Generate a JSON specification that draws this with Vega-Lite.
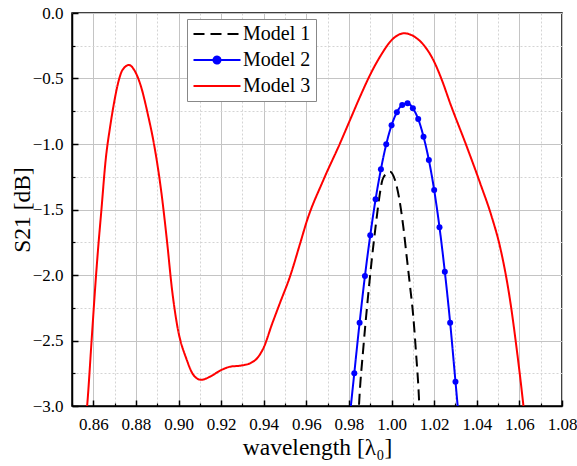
{
  "$schema": "https://vega.github.io/schema/vega-lite/v6.json",
  "width": 490,
  "height": 393,
  "autosize": {"type": "none"},
  "padding": {"left": 72, "top": 13, "right": 15, "bottom": 60},
  "background": "white",
  "config": {
    "view": {"stroke": "black", "strokeWidth": 1.5},
    "font": "Liberation Serif",
    "axis": {"labelFont": "Liberation Serif", "titleFont": "Liberation Serif", "labelColor": "black", "titleColor": "black", "titleFontWeight": "normal"}
  },
  "datasets": {
    "curves": [
      {"model": "Model 1", "wl": 0.9840, "s21": -3.25},
      {"model": "Model 1", "wl": 0.9847, "s21": -3.0},
      {"model": "Model 1", "wl": 0.9868, "s21": -2.547},
      {"model": "Model 1", "wl": 0.9888, "s21": -2.19},
      {"model": "Model 1", "wl": 0.9907, "s21": -1.885},
      {"model": "Model 1", "wl": 0.9926, "s21": -1.618},
      {"model": "Model 1", "wl": 0.9943, "s21": -1.402},
      {"model": "Model 1", "wl": 0.9957, "s21": -1.275},
      {"model": "Model 1", "wl": 0.9977, "s21": -1.224},
      {"model": "Model 1", "wl": 0.9993, "s21": -1.211},
      {"model": "Model 1", "wl": 1.0016, "s21": -1.275},
      {"model": "Model 1", "wl": 1.0037, "s21": -1.427},
      {"model": "Model 1", "wl": 1.0055, "s21": -1.631},
      {"model": "Model 1", "wl": 1.0071, "s21": -1.86},
      {"model": "Model 1", "wl": 1.0087, "s21": -2.089},
      {"model": "Model 1", "wl": 1.0102, "s21": -2.318},
      {"model": "Model 1", "wl": 1.0115, "s21": -2.598},
      {"model": "Model 1", "wl": 1.0129, "s21": -2.954},
      {"model": "Model 1", "wl": 1.0135, "s21": -3.2},
      {"model": "Model 2", "wl": 0.9800, "s21": -3.14},
      {"model": "Model 2", "wl": 0.9825, "s21": -2.75},
      {"model": "Model 2", "wl": 0.9850, "s21": -2.364},
      {"model": "Model 2", "wl": 0.9875, "s21": -2.008},
      {"model": "Model 2", "wl": 0.9900, "s21": -1.697},
      {"model": "Model 2", "wl": 0.9925, "s21": -1.422},
      {"model": "Model 2", "wl": 0.9950, "s21": -1.193},
      {"model": "Model 2", "wl": 0.9975, "s21": -1.002},
      {"model": "Model 2", "wl": 1.0000, "s21": -0.857},
      {"model": "Model 2", "wl": 1.0025, "s21": -0.758},
      {"model": "Model 2", "wl": 1.0050, "s21": -0.702},
      {"model": "Model 2", "wl": 1.0075, "s21": -0.689},
      {"model": "Model 2", "wl": 1.0100, "s21": -0.728},
      {"model": "Model 2", "wl": 1.0125, "s21": -0.809},
      {"model": "Model 2", "wl": 1.0150, "s21": -0.944},
      {"model": "Model 2", "wl": 1.0175, "s21": -1.122},
      {"model": "Model 2", "wl": 1.0200, "s21": -1.351},
      {"model": "Model 2", "wl": 1.0225, "s21": -1.636},
      {"model": "Model 2", "wl": 1.0250, "s21": -1.975},
      {"model": "Model 2", "wl": 1.0275, "s21": -2.364},
      {"model": "Model 2", "wl": 1.0300, "s21": -2.814},
      {"model": "Model 2", "wl": 1.0325, "s21": -3.264},
      {"model": "Model 3", "wl": 0.8555, "s21": -3.25},
      {"model": "Model 3", "wl": 0.8572, "s21": -2.98},
      {"model": "Model 3", "wl": 0.8592, "s21": -2.50},
      {"model": "Model 3", "wl": 0.8613, "s21": -2.0},
      {"model": "Model 3", "wl": 0.8622, "s21": -1.809},
      {"model": "Model 3", "wl": 0.8638, "s21": -1.504},
      {"model": "Model 3", "wl": 0.8658, "s21": -1.122},
      {"model": "Model 3", "wl": 0.8679, "s21": -0.868},
      {"model": "Model 3", "wl": 0.8697, "s21": -0.689},
      {"model": "Model 3", "wl": 0.8716, "s21": -0.537},
      {"model": "Model 3", "wl": 0.8737, "s21": -0.435},
      {"model": "Model 3", "wl": 0.8768, "s21": -0.397},
      {"model": "Model 3", "wl": 0.8792, "s21": -0.435},
      {"model": "Model 3", "wl": 0.8824, "s21": -0.562},
      {"model": "Model 3", "wl": 0.8855, "s21": -0.766},
      {"model": "Model 3", "wl": 0.8887, "s21": -1.02},
      {"model": "Model 3", "wl": 0.8918, "s21": -1.351},
      {"model": "Model 3", "wl": 0.8947, "s21": -1.758},
      {"model": "Model 3", "wl": 0.8968, "s21": -2.09},
      {"model": "Model 3", "wl": 0.8992, "s21": -2.369},
      {"model": "Model 3", "wl": 0.9039, "s21": -2.649},
      {"model": "Model 3", "wl": 0.9070, "s21": -2.763},
      {"model": "Model 3", "wl": 0.9105, "s21": -2.80},
      {"model": "Model 3", "wl": 0.9148, "s21": -2.776},
      {"model": "Model 3", "wl": 0.9195, "s21": -2.73},
      {"model": "Model 3", "wl": 0.9242, "s21": -2.70},
      {"model": "Model 3", "wl": 0.9290, "s21": -2.692},
      {"model": "Model 3", "wl": 0.9336, "s21": -2.674},
      {"model": "Model 3", "wl": 0.9375, "s21": -2.623},
      {"model": "Model 3", "wl": 0.9398, "s21": -2.56},
      {"model": "Model 3", "wl": 0.9440, "s21": -2.37},
      {"model": "Model 3", "wl": 0.9477, "s21": -2.21},
      {"model": "Model 3", "wl": 0.9523, "s21": -2.013},
      {"model": "Model 3", "wl": 0.9571, "s21": -1.758},
      {"model": "Model 3", "wl": 0.9602, "s21": -1.59},
      {"model": "Model 3", "wl": 0.9680, "s21": -1.275},
      {"model": "Model 3", "wl": 0.9758, "s21": -0.995},
      {"model": "Model 3", "wl": 0.9805, "s21": -0.817},
      {"model": "Model 3", "wl": 0.9852, "s21": -0.639},
      {"model": "Model 3", "wl": 0.9899, "s21": -0.473},
      {"model": "Model 3", "wl": 0.9946, "s21": -0.333},
      {"model": "Model 3", "wl": 1.0009, "s21": -0.193},
      {"model": "Model 3", "wl": 1.0059, "s21": -0.155},
      {"model": "Model 3", "wl": 1.0118, "s21": -0.193},
      {"model": "Model 3", "wl": 1.0157, "s21": -0.257},
      {"model": "Model 3", "wl": 1.0196, "s21": -0.359},
      {"model": "Model 3", "wl": 1.0236, "s21": -0.511},
      {"model": "Model 3", "wl": 1.0275, "s21": -0.689},
      {"model": "Model 3", "wl": 1.0353, "s21": -1.02},
      {"model": "Model 3", "wl": 1.0416, "s21": -1.30},
      {"model": "Model 3", "wl": 1.0470, "s21": -1.555},
      {"model": "Model 3", "wl": 1.0509, "s21": -1.784},
      {"model": "Model 3", "wl": 1.0556, "s21": -2.19},
      {"model": "Model 3", "wl": 1.0588, "s21": -2.573},
      {"model": "Model 3", "wl": 1.0619, "s21": -3.0},
      {"model": "Model 3", "wl": 1.0635, "s21": -3.25}
    ]
  },
  "data": {"name": "curves"},
  "layer": [
    {
      "mark": {"type": "line", "clip": true, "strokeWidth": 2, "interpolate": "monotone"},
      "encoding": {
        "x": {
          "field": "wl", "type": "quantitative",
          "scale": {"domain": [0.85, 1.08], "nice": false, "zero": false},
          "axis": {
            "orient": "bottom",
            "values": [0.85, 0.87, 0.89, 0.91, 0.93, 0.95, 0.97, 0.99, 1.01, 1.03, 1.05, 1.07],
            "labels": false, "domain": false, "title": null,
            "ticks": true, "tickSize": -3, "tickColor": "black", "tickWidth": 1.2,
            "grid": true, "gridColor": "#d4d4d4", "gridDash": [2, 2], "gridWidth": 1
          }
        },
        "y": {
          "field": "s21", "type": "quantitative",
          "scale": {"domain": [-3, 0], "nice": false, "zero": false},
          "axis": {
            "orient": "left",
            "values": [-2.75, -2.25, -1.75, -1.25, -0.75, -0.25],
            "labels": false, "domain": false, "title": null,
            "ticks": true, "tickSize": -3, "tickColor": "black", "tickWidth": 1.2,
            "grid": true, "gridColor": "#d4d4d4", "gridDash": [2, 2], "gridWidth": 1
          }
        },
        "color": {
          "field": "model", "type": "nominal",
          "scale": {"domain": ["Model 1", "Model 2", "Model 3"], "range": ["#000000", "#0000ff", "#ff0000"]},
          "legend": {
            "title": null, "orient": "none", "legendX": 115, "legendY": 6,
            "symbolType": "M-4.7,0H4.7", "symbolSize": 100, "symbolStrokeWidth": 2, "symbolOffset": 15,
            "labelFont": "Liberation Serif", "labelFontSize": 20, "labelColor": "black",
            "strokeColor": "#888888", "fillColor": "white", "padding": 5, "rowPadding": 6, "labelOffset": 16,
            "encode": {
              "symbols": {
                "update": {
                  "shape": [
                    {"test": "datum.value === 'Model 2'", "value": "M-4.7,0H4.7M0.7,0A0.7,0.7 0 1,1 -0.7,0A0.7,0.7 0 1,1 0.7,0Z"},
                    {"value": "M-4.7,0H4.7"}
                  ],
                  "fill": [
                    {"test": "datum.value === 'Model 2'", "value": "#0000ff"},
                    {"value": "transparent"}
                  ],
                  "strokeDash": [
                    {"test": "datum.value === 'Model 1'", "value": [10, 9]},
                    {"value": [1, 0]}
                  ]
                }
              }
            }
          }
        },
        "strokeDash": {
          "field": "model", "type": "nominal",
          "scale": {"domain": ["Model 1", "Model 2", "Model 3"], "range": [[11, 6], [1, 0], [1, 0]]},
          "legend": null
        }
      }
    },
    {
      "transform": [{"filter": "datum.model === 'Model 2'"}],
      "mark": {"type": "point", "filled": true, "clip": true, "size": 36, "color": "#0000ff", "opacity": 1},
      "encoding": {
        "x": {
          "field": "wl", "type": "quantitative",
          "axis": {
            "orient": "bottom",
            "values": [0.86, 0.88, 0.9, 0.92, 0.94, 0.96, 0.98, 1.0, 1.02, 1.04, 1.06, 1.08],
            "format": ".2f", "labelFontSize": 17, "labelPadding": 16, "labelFlush": false, "labelOverlap": false,
            "tickSize": -6, "tickColor": "black", "tickWidth": 1.5,
            "domain": true, "domainColor": "black", "domainWidth": 1.5,
            "grid": true, "gridColor": "#c4c4c4", "gridWidth": 1,
            "title": "wavelength [λ₀]", "titleFontSize": 23.5, "titleY": 29
          }
        },
        "y": {
          "field": "s21", "type": "quantitative",
          "axis": {
            "orient": "left",
            "values": [-3, -2.5, -2, -1.5, -1, -0.5, 0],
            "format": ".1f", "labelFontSize": 17, "labelPadding": 15, "labelFlush": false, "labelOverlap": false,
            "tickSize": -6, "tickColor": "black", "tickWidth": 1.5,
            "domain": true, "domainColor": "black", "domainWidth": 1.5,
            "grid": true, "gridColor": "#c4c4c4", "gridWidth": 1,
            "title": "S21 [dB]", "titleFontSize": 23.5, "titleX": -38
          }
        }
      }
    }
  ],
  "resolve": {"axis": {"x": "independent", "y": "independent"}}
}
